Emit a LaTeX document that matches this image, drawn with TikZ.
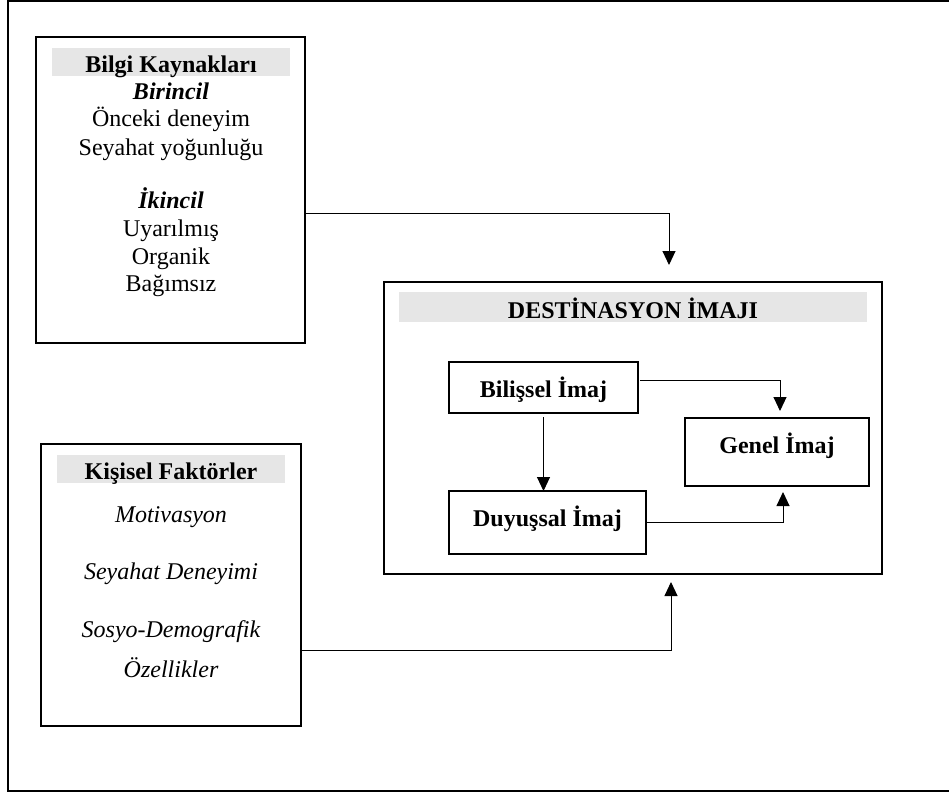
\documentclass[tikz,border=0pt]{standalone}
\usepackage{fontspec}
\setmainfont{Liberation Serif}
\usetikzlibrary{arrows.meta,calc}
\definecolor{hdrgray}{HTML}{E6E6E6}
\begin{document}
\begin{tikzpicture}[x=1pt,y=-1pt,
  box/.style={draw,line width=2pt,inner sep=0,outer sep=0,anchor=north west},
  bar/.style={fill=hdrgray,inner sep=0,outer sep=0,anchor=north west},
  txt/.style={anchor=base,inner sep=0,font=\fontsize{24}{28}\selectfont},
  arr/.style={-{Triangle[width=13pt,length=14pt]},line width=1pt}]
\useasboundingbox (0,0) rectangle (949,793);
\draw[line width=2pt] (8,1) rectangle (960,791);
% Bilgi Kaynaklari
\node[box,minimum width=269pt,minimum height=306pt] (b1) at (36,37) {};
\node[bar,minimum width=238pt,minimum height=28pt] (h1) at (52,48) {};
\node[txt] (h1t) at (171,72) {\bfseries Bilgi Kaynakları};
\node[txt] (l1) at (171,99) {\bfseries\itshape Birincil};
\node[txt] (l2) at (171,126) {Önceki deneyim};
\node[txt] (l3) at (171,155) {Seyahat yoğunluğu};
\node[txt] (l4) at (171,208) {\bfseries\itshape İkincil};
\node[txt] (l5) at (171,236) {Uyarılmış};
\node[txt] (l6) at (171,264) {Organik};
\node[txt] (l7) at (171,291) {Bağımsız};
% Kisisel Faktorler
\node[box,minimum width=260pt,minimum height=282pt] (b2) at (41,444) {};
\node[bar,minimum width=228pt,minimum height=28pt] (h2) at (57,455) {};
\node[txt] (h2t) at (171,479) {\bfseries Kişisel Faktörler};
\node[txt] (k1) at (171,522) {\itshape Motivasyon};
\node[txt] (k2) at (171,579) {\itshape Seyahat Deneyimi};
\node[txt] (k3) at (171,637) {\itshape Sosyo-Demografik};
\node[txt] (k4) at (171,677) {\itshape Özellikler};
% Destinasyon Imaji
\node[box,minimum width=498pt,minimum height=292pt] (dest) at (384,282) {};
\node[bar,minimum width=468pt,minimum height=30pt] (h3) at (399,292) {};
\node[txt] (h3t) at (633,318) {\bfseries DESTİNASYON İMAJI};
\node[box,line width=1.2pt,minimum width=189pt,minimum height=51pt] (bil) at (449,362) {};
\node[txt] (bilt) at (543.5,397) {\bfseries Bilişsel İmaj};
\node[box,line width=1.2pt,minimum width=184pt,minimum height=68pt] (gen) at (685,418) {};
\node[txt] (gent) at (777,453) {\bfseries Genel İmaj};
\node[box,line width=2pt,minimum width=197pt,minimum height=63pt] (duy) at (449,491) {};
\node[txt] (duyt) at (547.5,526) {\bfseries Duyuşsal İmaj};
% connectors
\draw[arr] ([yshift=-23pt]b1.east) -| ([xshift=36pt,yshift=17pt]dest.north);
\draw[arr] ([yshift=-65pt]b2.east) -| ([xshift=38pt,yshift=-8pt]dest.south);
\draw[arr] ([yshift=-4pt]bil.south) -- (bil.south |- duy.north);
\draw[arr] ([xshift=2pt,yshift=7pt]bil.east) -| ([xshift=3pt,yshift=7pt]gen.north);
\draw[arr] ([xshift=1pt]duy.east) -| ([xshift=6pt,yshift=-6pt]gen.south);
\end{tikzpicture}
\end{document}
